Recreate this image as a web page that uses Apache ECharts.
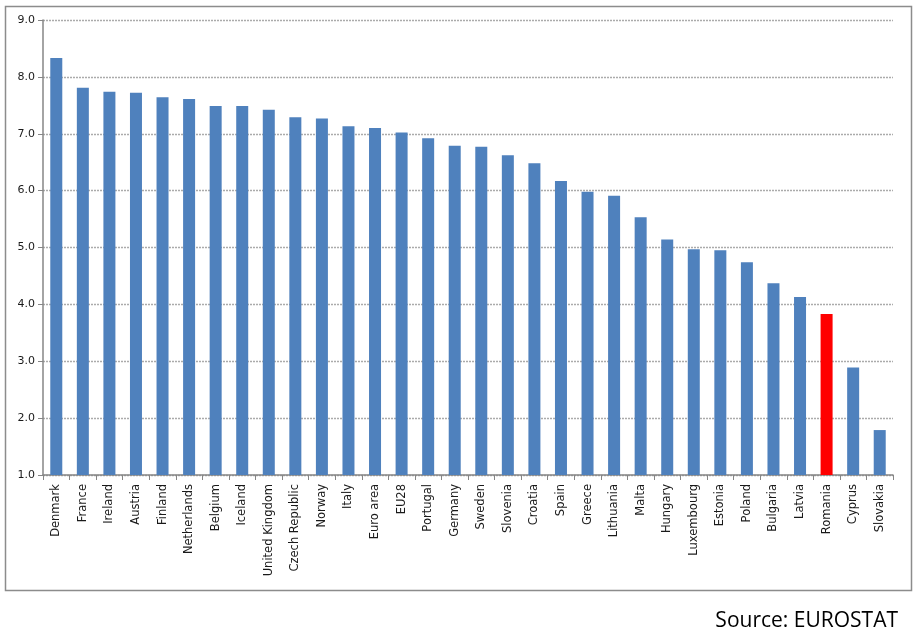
<!DOCTYPE html>
<html>
<head>
<meta charset="utf-8">
<script src="https://cdn.jsdelivr.net/npm/echarts@6/dist/echarts.min.js"></script>
<style>
html,body{margin:0;padding:0;background:#fff;}
#c{width:913px;height:637px;}
</style>
</head>
<body>
<div id="c"></div>
<script>
const categories = ["Denmark","France","Ireland","Austria","Finland","Netherlands","Belgium","Iceland","United Kingdom","Czech Republic","Norway","Italy","Euro area","EU28","Portugal","Germany","Sweden","Slovenia","Croatia","Spain","Greece","Lithuania","Malta","Hungary","Luxembourg","Estonia","Poland","Bulgaria","Latvia","Romania","Cyprus","Slovakia"];
const values = [8.33,7.81,7.74,7.72,7.64,7.61,7.49,7.49,7.42,7.29,7.27,7.13,7.10,7.02,6.92,6.79,6.77,6.62,6.48,6.17,5.98,5.91,5.53,5.14,4.97,4.95,4.74,4.37,4.13,3.83,2.89,1.79];
const highlighted = ["Romania"];
const yTicks = {min: 1, max: 9, interval: 1};
const sourceText = "Source: EUROSTAT";

const chart = echarts.init(document.getElementById('c'), null, {renderer: 'canvas'});
const font = "DejaVu Sans";
chart.setOption({
  animation: false,
  backgroundColor: '#ffffff',
  grid: {left: 43, right: 20, top: 20, bottom: 162, containLabel: false},
  xAxis: {
    type: 'category',
    data: categories,
    axisLine: {show: true, lineStyle: {color: '#868686', width: 1.5}},
    axisTick: {show: true, length: 5, alignWithLabel: false, lineStyle: {color: '#868686'}},
    axisLabel: {rotate: 90, interval: 0, margin: 9, color: '#1a1a1a', fontFamily: font, fontSize: 11.5},
    splitLine: {show: false}
  },
  yAxis: {
    type: 'value',
    min: yTicks.min, max: yTicks.max, interval: yTicks.interval,
    axisLine: {show: true, lineStyle: {color: '#868686', width: 1.5}},
    axisTick: {show: true, length: 5, lineStyle: {color: '#868686'}},
    axisLabel: {margin: 8, color: '#1a1a1a', fontFamily: font, fontSize: 11,
      formatter: v => v.toFixed(1)},
    splitLine: {show: true, lineStyle: {color: '#ababab', type: [2, 1], width: 1.3}}
  },
  series: [{
    type: 'bar',
    barWidth: 12,
    data: values.map((v, i) => ({
      value: v,
      itemStyle: {color: highlighted.includes(categories[i]) ? '#ff0000' : '#4f81bd'}
    }))
  }],
  graphic: [
    {type: 'rect', left: 3, top: 4, shape: {x: 0, y: 0, width: 906, height: 584},
      style: {fill: null, stroke: '#8c8c8c', lineWidth: 1.5}, silent: true},
    {type: 'text', right: 15, top: 611, style: {text: sourceText, font: '21px "Open Sans"', fill: '#000'}}
  ]
});
</script>
</body>
</html>
